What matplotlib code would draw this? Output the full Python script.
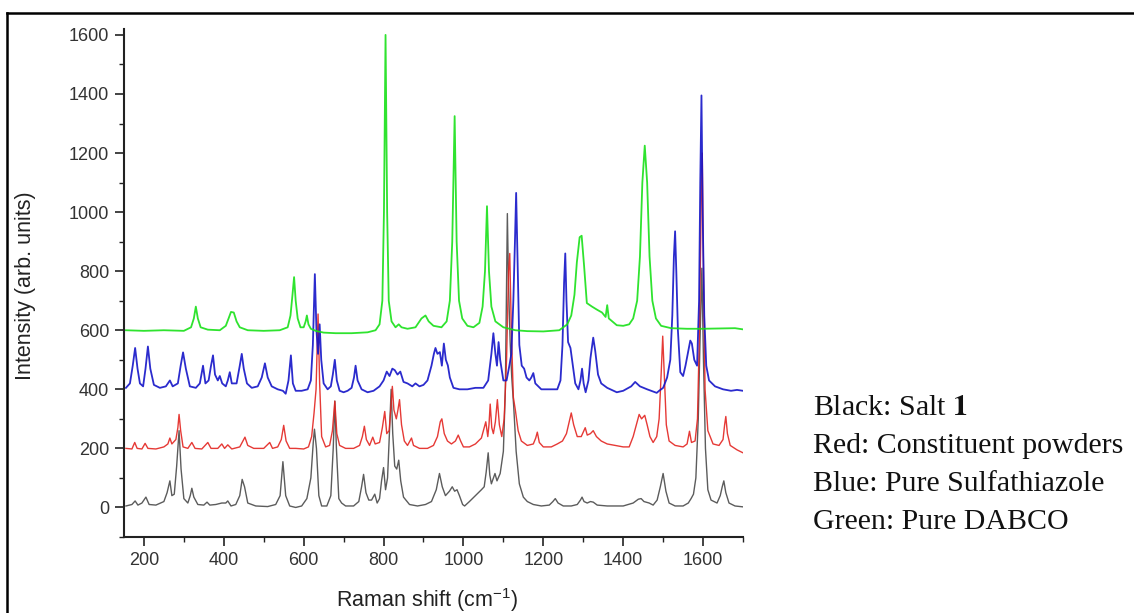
import numpy as np
import matplotlib.pyplot as plt
from matplotlib.lines import Line2D

plt.rcParams['font.family'] = 'Liberation Sans'
plt.rcParams['mathtext.fontset'] = 'custom'
plt.rcParams['mathtext.rm'] = 'Liberation Sans'
plt.rcParams['mathtext.it'] = 'Liberation Sans:italic'
plt.rcParams['mathtext.bf'] = 'Liberation Sans:bold'

# Raman spectra: (Raman shift cm-1, intensity)
# black = salt 1, red = constituent powders, blue = sulfathiazole, green = DABCO
black = [
    (155, 5), (170, 10), (178, 22), (185, 8), (195, 15), (205, 35), (213, 10), (230, 8),
    (250, 20), (258, 50), (265, 90), (270, 40), (276, 45), (282, 140), (288, 260), (293, 130),
    (300, 30), (310, 15), (316, 40), (320, 65), (325, 35), (335, 10), (350, 8), (358, 18),
    (365, 8), (380, 10), (395, 15), (405, 15), (410, 22), (418, 5), (430, 10), (440, 40),
    (446, 95), (452, 70), (460, 15), (480, 5), (510, 3), (530, 10), (541, 40), (548, 155),
    (555, 40), (565, 5), (580, 0), (595, 5), (608, 30), (618, 100), (624, 220), (627, 265),
    (632, 200), (638, 40), (645, 5), (658, 5), (668, 40), (674, 200), (678, 360), (682, 200),
    (688, 30), (695, 15), (705, 5), (725, 5), (738, 20), (745, 70), (750, 112), (756, 50),
    (763, 25), (770, 25), (778, 45), (784, 15), (790, 30), (795, 90), (800, 135), (805, 60),
    (810, 100), (815, 260), (819, 400), (823, 250), (828, 140), (833, 130), (838, 160),
    (843, 90), (850, 35), (865, 10), (885, 5), (905, 10), (920, 20), (932, 60), (940, 115),
    (947, 70), (955, 40), (965, 55), (972, 70), (978, 55), (984, 60), (990, 40), (998, 10),
    (1003, 5), (1015, 20), (1030, 40), (1045, 60), (1052, 70), (1057, 120), (1062, 185),
    (1066, 110), (1070, 80), (1075, 100), (1079, 115), (1084, 90), (1092, 115), (1100, 190),
    (1105, 400), (1110, 995), (1113, 750), (1117, 560), (1121, 440), (1126, 340), (1132, 190),
    (1140, 80), (1150, 35), (1160, 20), (1175, 10), (1195, 5), (1215, 8), (1224, 20),
    (1230, 30), (1237, 15), (1250, 5), (1270, 5), (1285, 10), (1293, 25), (1297, 35),
    (1302, 20), (1310, 15), (1318, 20), (1325, 18), (1335, 8), (1360, 5), (1400, 5),
    (1425, 15), (1438, 28), (1445, 30), (1452, 20), (1465, 15), (1475, 8), (1485, 25),
    (1493, 70), (1500, 115), (1507, 55), (1515, 15), (1530, 5), (1550, 5), (1563, 15),
    (1570, 30), (1576, 45), (1582, 100), (1588, 300), (1593, 600), (1597, 810), (1601, 500),
    (1606, 200), (1612, 60), (1620, 25), (1635, 15), (1643, 40), (1648, 70), (1652, 90),
    (1657, 50), (1665, 15), (1680, 5), (1700, 2),
]

red = [
    (155, 200), (170, 198), (177, 220), (183, 200), (195, 198), (203, 217), (210, 200),
    (230, 198), (250, 205), (260, 215), (265, 235), (270, 215), (280, 230), (285, 270),
    (288, 315), (292, 260), (298, 205), (310, 200), (320, 220), (328, 200), (345, 198),
    (360, 220), (368, 200), (385, 200), (395, 215), (402, 200), (410, 212), (420, 198),
    (440, 205), (448, 225), (453, 238), (460, 210), (475, 200), (500, 200), (515, 220),
    (522, 200), (535, 205), (544, 230), (550, 278), (556, 225), (565, 200), (580, 200),
    (600, 198), (612, 205), (620, 240), (626, 320), (631, 400), (636, 655), (640, 420),
    (645, 240), (655, 205), (665, 210), (672, 260), (678, 360), (683, 250), (690, 210),
    (705, 200), (725, 200), (740, 210), (747, 240), (752, 275), (757, 230), (765, 210),
    (773, 238), (779, 215), (790, 220), (797, 270), (803, 325), (808, 250), (814, 260),
    (818, 330), (822, 410), (826, 330), (832, 300), (836, 330), (840, 365), (845, 280),
    (852, 225), (860, 210), (866, 225), (870, 235), (875, 210), (890, 200), (910, 200),
    (925, 210), (935, 240), (942, 290), (946, 300), (952, 250), (960, 225), (970, 215),
    (980, 225), (987, 245), (993, 225), (1000, 205), (1015, 205), (1030, 215), (1045, 235),
    (1052, 270), (1056, 290), (1061, 240), (1064, 280), (1067, 350), (1071, 270),
    (1075, 250), (1080, 290), (1085, 365), (1090, 280), (1096, 240), (1102, 300),
    (1108, 500), (1113, 800), (1116, 860), (1120, 600), (1125, 373), (1130, 330),
    (1137, 260), (1145, 225), (1160, 210), (1175, 215), (1181, 235), (1185, 255),
    (1190, 220), (1200, 205), (1220, 205), (1235, 215), (1248, 225), (1258, 250),
    (1265, 290), (1270, 320), (1276, 280), (1285, 240), (1295, 240), (1300, 255),
    (1305, 270), (1310, 245), (1318, 250), (1325, 260), (1333, 240), (1345, 225),
    (1360, 215), (1380, 210), (1400, 205), (1415, 205), (1425, 240), (1433, 280),
    (1440, 315), (1446, 300), (1454, 312), (1460, 280), (1467, 240), (1475, 220),
    (1484, 240), (1490, 300), (1495, 450), (1499, 580), (1503, 450), (1508, 280),
    (1515, 225), (1530, 210), (1550, 205), (1560, 215), (1566, 258), (1571, 220),
    (1580, 225), (1586, 300), (1591, 600), (1595, 1000), (1598, 1200), (1601, 800),
    (1605, 400), (1612, 260), (1625, 215), (1640, 210), (1650, 230), (1654, 280),
    (1657, 308), (1661, 250), (1668, 210), (1685, 195), (1700, 185),
]

blue = [
    (155, 405), (165, 420), (172, 480), (178, 540), (184, 470), (190, 420), (198, 410),
    (204, 470), (210, 545), (216, 470), (225, 415), (240, 405), (255, 410), (265, 430),
    (272, 410), (285, 420), (292, 480), (298, 525), (305, 470), (315, 410), (330, 405),
    (340, 420), (348, 480), (354, 420), (362, 430), (368, 480), (373, 515), (378, 450),
    (385, 430), (390, 445), (396, 420), (405, 410), (410, 430), (415, 458), (420, 420),
    (432, 420), (440, 480), (445, 520), (450, 470), (458, 420), (470, 405), (485, 410),
    (495, 440), (503, 488), (510, 440), (520, 410), (535, 400), (548, 395), (555, 385),
    (562, 430), (568, 515), (573, 420), (580, 395), (595, 395), (610, 400), (618, 430),
    (623, 550), (628, 790), (632, 600), (636, 520), (640, 620), (644, 500), (650, 420),
    (660, 400), (668, 410), (673, 450), (678, 500), (683, 430), (690, 395), (700, 390),
    (710, 395), (720, 405), (726, 440), (730, 480), (735, 430), (745, 400), (760, 390),
    (775, 395), (790, 410), (800, 430), (808, 460), (815, 445), (822, 470), (828, 465),
    (835, 450), (842, 460), (850, 425), (860, 420), (872, 410), (880, 420), (890, 410),
    (900, 415), (910, 430), (920, 480), (926, 520), (930, 540), (935, 520), (941, 526),
    (946, 480), (951, 555), (956, 500), (961, 481), (966, 440), (975, 405), (990, 400),
    (1010, 400), (1030, 405), (1050, 405), (1062, 430), (1070, 520), (1075, 590),
    (1080, 520), (1084, 480), (1088, 560), (1092, 500), (1100, 430), (1108, 430),
    (1115, 480), (1120, 520), (1125, 700), (1129, 900), (1132, 1065), (1136, 800),
    (1140, 550), (1146, 480), (1152, 470), (1158, 440), (1165, 430), (1170, 440),
    (1175, 455), (1180, 420), (1195, 400), (1215, 400), (1235, 400), (1243, 430),
    (1248, 550), (1252, 760), (1255, 860), (1258, 700), (1262, 560), (1268, 540),
    (1273, 490), (1280, 420), (1288, 400), (1293, 430), (1297, 470), (1301, 420),
    (1306, 390), (1313, 430), (1318, 505), (1325, 575), (1330, 530), (1337, 450),
    (1345, 420), (1360, 405), (1384, 390), (1400, 395), (1420, 410), (1430, 425),
    (1442, 410), (1460, 400), (1484, 388), (1490, 395), (1500, 405), (1510, 440),
    (1518, 500), (1523, 650), (1527, 850), (1530, 935), (1533, 800), (1537, 600),
    (1543, 458), (1550, 445), (1556, 480), (1562, 522), (1568, 565), (1572, 555),
    (1578, 500), (1585, 480), (1590, 700), (1593, 1100), (1596, 1395), (1599, 1000),
    (1603, 650), (1608, 480), (1615, 430), (1630, 410), (1650, 400), (1670, 395),
    (1685, 398), (1700, 395),
]

green = [
    (155, 600), (200, 598), (250, 600), (300, 598), (318, 610), (325, 640), (330, 680),
    (335, 640), (342, 610), (360, 602), (390, 600), (405, 615), (412, 640), (418, 662),
    (425, 660), (432, 630), (440, 610), (460, 600), (500, 598), (540, 600), (560, 610),
    (567, 650), (572, 720), (576, 780), (580, 700), (585, 640), (592, 610), (600, 610),
    (605, 630), (608, 650), (612, 620), (618, 605), (630, 598), (650, 592), (680, 590),
    (720, 590), (760, 593), (780, 600), (790, 620), (797, 700), (801, 1000), (805, 1600),
    (809, 1000), (813, 700), (820, 630), (830, 610), (838, 620), (845, 610), (860, 605),
    (880, 610), (895, 640), (905, 650), (913, 630), (925, 615), (945, 610), (958, 630),
    (966, 700), (972, 900), (978, 1325), (983, 900), (989, 700), (997, 640), (1010, 615),
    (1025, 610), (1040, 625), (1048, 680), (1054, 800), (1059, 1020), (1064, 800),
    (1070, 680), (1080, 630), (1100, 610), (1130, 600), (1160, 597), (1200, 596),
    (1240, 600), (1260, 620), (1270, 650), (1278, 720), (1284, 830), (1291, 915),
    (1296, 920), (1302, 820), (1309, 692), (1322, 680), (1334, 670), (1347, 660),
    (1356, 645), (1360, 685), (1364, 640), (1384, 617), (1400, 615), (1415, 620),
    (1425, 640), (1435, 700), (1442, 850), (1448, 1100), (1454, 1225), (1460, 1100),
    (1466, 850), (1473, 700), (1482, 640), (1495, 615), (1520, 607), (1560, 605),
    (1600, 605), (1640, 606), (1680, 607), (1700, 603),
]

series = [
    (black, '#4a4a4a', 1.0),
    (red, '#e32420', 1.0),
    (blue, '#1414c8', 1.3),
    (green, '#18e018', 1.3),
]

legend_lines = [
    'Black: Salt $\\mathbf{1}$',
    'Red: Constituent powders',
    'Blue: Pure Sulfathiazole',
    'Green: Pure DABCO',
]

fig = plt.figure(figsize=(11.34, 6.13), dpi=100)
ax = fig.add_axes([0.1093, 0.1240, 0.5459, 0.8287])

for data, color, lw in series:
    xs, ys = zip(*data)
    ax.plot(xs, ys, color=color, lw=lw, alpha=0.9)

ax.set_xlim(150, 1700)
ax.set_ylim(-100, 1620)
ax.set_xticks(np.arange(200, 1601, 200))
ax.set_xticks(np.arange(200, 1701, 100), minor=True)
ax.set_yticks(np.arange(0, 1601, 200))
ax.set_yticks(np.arange(-100, 1601, 100), minor=True)

for side in ['top', 'right']:
    ax.spines[side].set_visible(False)
for side in ['left', 'bottom']:
    ax.spines[side].set_linewidth(1.5)
    ax.spines[side].set_color('#222222')

ax.tick_params(which='major', direction='out', length=6.5, width=1.2, labelsize=13,
               pad=4, colors='#222222')
ax.tick_params(which='minor', direction='out', length=3.5, width=1.0, colors='#222222')
ax.tick_params(axis='x', which='major', labelcolor='#333333')
ax.tick_params(axis='y', which='major', labelcolor='#333333')

ax.set_xlabel('Raman shift (cm$^{-1}$)', fontsize=15.5, color='#222222')
ax.set_ylabel('Intensity (arb. units)', fontsize=15.5, color='#222222')
ax.xaxis.set_label_coords(0.49, -0.096)
ax.yaxis.set_label_coords(-0.142, 0.495)

# legend text block on the right
for txt, yb in zip(legend_lines, [0.323, 0.261, 0.199, 0.137]):
    fig.text(0.717, yb, txt, fontsize=21.5, family='Liberation Serif',
             math_fontfamily='stix', va='baseline', ha='left', color='#111111')

# outer frame (only top and left edges are inside the picture)
fig.add_artist(Line2D([0.0066, 1.0], [0.9788, 0.9788], color='black', lw=1.8,
                      transform=fig.transFigure))
fig.add_artist(Line2D([0.0066, 0.0066], [0.0, 0.9788], color='black', lw=1.8,
                      transform=fig.transFigure))

fig.savefig('out.png', dpi=100)
